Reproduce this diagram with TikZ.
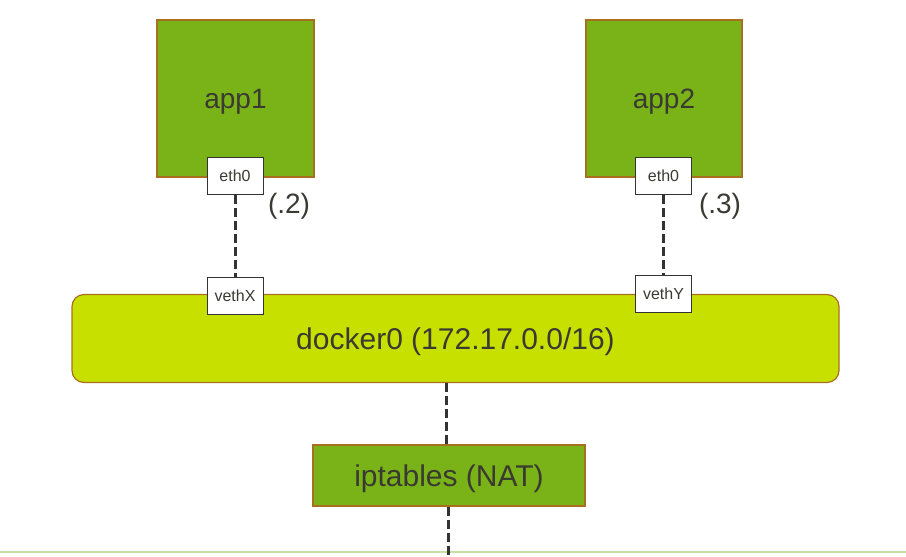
\documentclass[tikz,border=0pt]{standalone}
\usepackage{fontspec}
\setmainfont{Liberation Sans}
\usetikzlibrary{positioning}
\definecolor{appgreen}{HTML}{7AB317}
\definecolor{bridgelime}{HTML}{C8E000}
\definecolor{boxedge}{HTML}{A8701E}
\definecolor{txtgray}{HTML}{3A3A32}
\definecolor{floorgreen}{HTML}{C6DFA4}
\definecolor{wiregray}{HTML}{333333}

\begin{document}
\begin{tikzpicture}[x=1pt,y=-1pt,
    appbox/.style={draw=boxedge,line width=1.2pt,fill=appgreen,inner sep=0pt,
        text=txtgray,text depth=0pt,font=\fontsize{28}{32}\selectfont},
    ifbox/.style={draw=wiregray,line width=0.8pt,fill=white,inner sep=0pt,
        minimum width=56pt,minimum height=37pt,text=txtgray,font=\fontsize{16}{18}\selectfont},
    wire/.style={wiregray,line width=3pt,dash pattern=on 9pt off 4pt}]
\useasboundingbox (0,0) rectangle (906,557);
%------------------------------
% floor line
%______________________________
\draw[floorgreen,line width=1.5pt] (0,552) -- (906,552);
%
% containers
\node[appbox,minimum width=157pt,minimum height=157pt] (app1) at (235.5,98.5) {app1};
\node[appbox,minimum width=156pt,minimum height=157pt] (app2) at (664,98.5) {app2};
\node[ifbox] (eth1) at (235,176) {eth0};
\node[ifbox] (eth2) at (663.5,176) {eth0};
\node[font=\fontsize{28}{32}\selectfont,text=txtgray] (ip1) at (289,206) {(.2)};
\node[font=\fontsize{28}{32}\selectfont,text=txtgray] (ip2) at (720,206) {(.3)};
%
% bridge
\node[appbox,fill=bridgelime,rounded corners=12pt,minimum width=767pt,minimum height=88pt,
    font=\fontsize{30}{34}\selectfont] (docker) at (455.5,338.5) {docker0 (172.17.0.0/16)};
\node[ifbox] (vethX) at (235,296) {vethX};
\node[ifbox] (vethY) at (663.5,294) {vethY};
%
% nat
\node[appbox,minimum width=272pt,minimum height=61pt,font=\fontsize{30}{34}\selectfont]
    (nat) at (449,475.5) {iptables (NAT)};
\coordinate (out) at (448,557);
%
% links
\draw[wire] (eth1.south) -- (vethX.north);
\draw[wire] (eth2.south) -- (vethY.north);
\draw[wire] (docker.south -| 446,0) -- (nat.north -| 446,0);
\draw[wire] (nat.south -| 448,0) -- (out);
\end{tikzpicture}
\end{document}
